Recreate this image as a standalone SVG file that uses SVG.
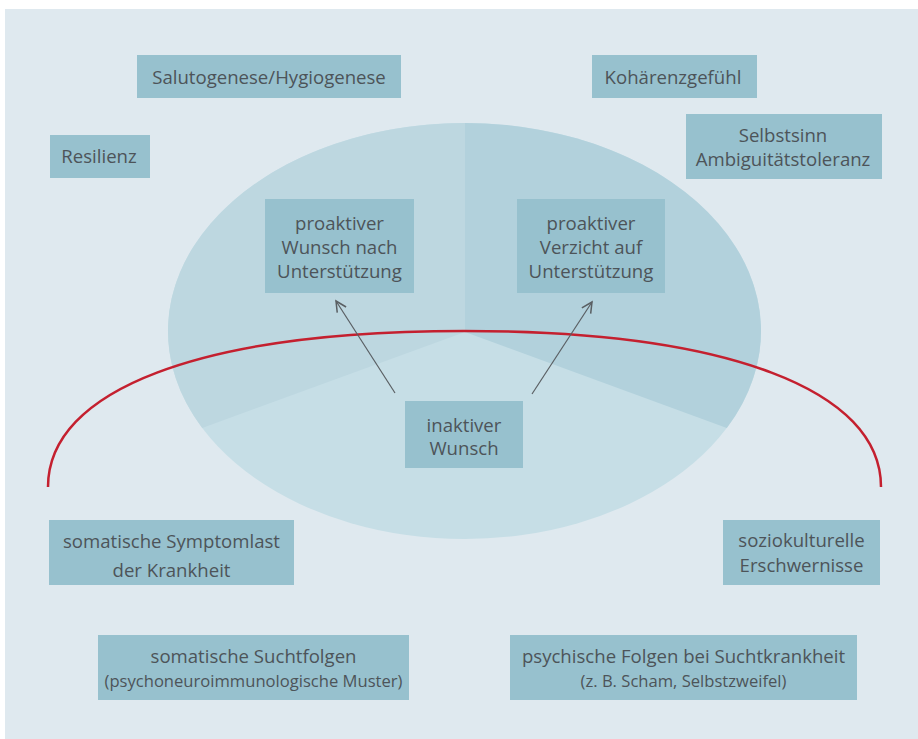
<svg xmlns="http://www.w3.org/2000/svg" width="918" height="739" viewBox="0 0 918 739">
  <defs>
    <style>
      .box { fill: #97c1ce; }
      .t { font-family: "Open Sans", "Noto Sans", sans-serif; font-size: 18.6px; fill: #4d5459; text-anchor: middle; }
      .s { font-size: 16.6px; }
      .conn { stroke: #5a5f63; stroke-width: 1.2; fill: none; }
    </style>
    <marker id="arr" markerUnits="userSpaceOnUse" markerWidth="14" markerHeight="14" refX="10" refY="5" orient="auto" viewBox="0 0 12 10">
      <path d="M1,0.5 L10,5 L1,9.5" fill="none" stroke="#5a5f63" stroke-width="1.3"/>
    </marker>
  </defs>

  <rect x="0" y="0" width="918" height="739" fill="#ffffff"/>
  <rect x="5" y="9" width="913" height="730" fill="#dfe9ef"/>

  <g id="ellipse">
    <ellipse cx="464.5" cy="331" rx="296.5" ry="208" fill="#c6dee6"/>
    <path d="M465,332 L465,123 A296.5,208 0 0 0 202.2,428 Z" fill="#bdd7e0"/>
    <path d="M465,332 L465,123 A296.5,208 0 0 1 726.8,428 Z" fill="#b2d1dc"/>
  </g>

  <g id="connectors">
    <path d="M48,487 C48,390 200,331 464,331 C728,331 881,390 881,487" fill="none" stroke="#c4202f" stroke-width="2.5"/>
    <line class="conn" x1="395" y1="393" x2="336" y2="301" marker-end="url(#arr)"/>
    <line class="conn" x1="532" y1="394" x2="592" y2="302" marker-end="url(#arr)"/>
  </g>

  <g id="salutogenese">
    <rect class="box" x="137" y="55" width="264" height="43"/>
    <text class="t" x="269" y="84">Salutogenese/Hygiogenese</text>
  </g>
  <g id="resilienz">
    <rect class="box" x="50" y="135" width="100" height="43"/>
    <text class="t" x="99" y="163">Resilienz</text>
  </g>
  <g id="kohaerenz">
    <rect class="box" x="592" y="55" width="165" height="43"/>
    <text class="t" x="673" y="84">Kohärenzgefühl</text>
  </g>
  <g id="selbstsinn">
    <rect class="box" x="686" y="114" width="196" height="65"/>
    <text class="t" x="783" y="142">Selbstsinn</text>
    <text class="t" x="783" y="166">Ambiguitätstoleranz</text>
  </g>
  <g id="wunsch">
    <rect class="box" x="265" y="199" width="149" height="94"/>
    <text class="t" x="339.5" y="230">proaktiver</text>
    <text class="t" x="339.5" y="254">Wunsch nach</text>
    <text class="t" x="339.5" y="278">Unterstützung</text>
  </g>
  <g id="verzicht">
    <rect class="box" x="517" y="199" width="148" height="94"/>
    <text class="t" x="591" y="230">proaktiver</text>
    <text class="t" x="591" y="254">Verzicht auf</text>
    <text class="t" x="591" y="278">Unterstützung</text>
  </g>
  <g id="inaktiv">
    <rect class="box" x="405" y="401" width="118" height="67"/>
    <text class="t" x="464" y="432">inaktiver</text>
    <text class="t" x="464" y="455">Wunsch</text>
  </g>
  <g id="symptomlast">
    <rect class="box" x="49" y="520" width="245" height="65"/>
    <text class="t" x="171.5" y="548">somatische Symptomlast</text>
    <text class="t" x="171.5" y="577">der Krankheit</text>
  </g>
  <g id="soziokulturell">
    <rect class="box" x="723" y="520" width="157" height="65"/>
    <text class="t" x="801.5" y="547">soziokulturelle</text>
    <text class="t" x="801.5" y="572">Erschwernisse</text>
  </g>
  <g id="suchtfolgen">
    <rect class="box" x="98" y="635" width="311" height="65"/>
    <text class="t" x="253.5" y="663">somatische Suchtfolgen</text>
    <text class="t s" x="253.5" y="687">(psychoneuroimmunologische Muster)</text>
  </g>
  <g id="psychisch">
    <rect class="box" x="510" y="635" width="347" height="65"/>
    <text class="t" x="683.5" y="663">psychische Folgen bei Suchtkrankheit</text>
    <text class="t s" x="683.5" y="687">(z. B. Scham, Selbstzweifel)</text>
  </g>
</svg>
